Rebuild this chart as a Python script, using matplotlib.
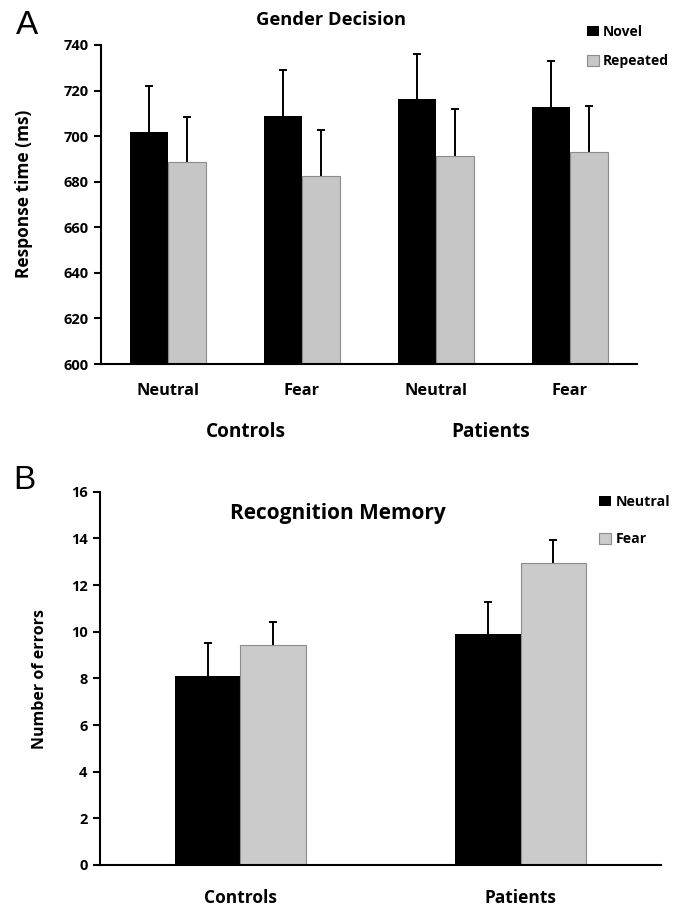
import matplotlib.pyplot as plt
import numpy as np

plt.rcParams['font.family'] = ['Open Sans', 'DejaVu Sans']

# Panel A data (Gender Decision)
conditions = ['Neutral', 'Fear', 'Neutral', 'Fear']
novel_rt = [701.8, 708.9, 716.1, 712.8]
novel_err = [20.0, 20.0, 20.1, 20.1]
repeated_rt = [688.7, 682.6, 691.3, 693.0]
repeated_err = [19.9, 20.0, 20.6, 20.1]

# Panel B data (Recognition Memory)
groups = ['Controls', 'Patients']
neutral_errors = [8.08, 9.91]
neutral_sem = [1.43, 1.35]
fear_errors = [9.41, 12.93]
fear_sem = [0.99, 1.0]

black = '#000000'
gray = '#c6c6c6'
gray_edge = '#8c8c8c'

fig = plt.figure(figsize=(6.74, 9.08), dpi=100)
W, H = 674, 908


def axes_px(l, t, r, b):
    return fig.add_axes([l / W, 1 - b / H, (r - l) / W, (b - t) / H])


def style_axes(ax):
    ax.spines['top'].set_visible(False)
    ax.spines['right'].set_visible(False)
    ax.spines['left'].set_linewidth(1.5)
    ax.spines['bottom'].set_linewidth(1.5)
    ax.tick_params(axis='y', length=5, width=1.5, labelsize=10.5, pad=4)
    for t in ax.get_yticklabels():
        t.set_fontweight('bold')


def upper_err(ax, xs, ys, errs):
    # one-sided error bars: hide the cap that sits on the bar top
    eb = ax.errorbar(xs, ys, yerr=[np.zeros(len(ys)), errs], fmt='none', ecolor='black',
                     elinewidth=1.4, capsize=3, capthick=1.4, zorder=1)
    eb[1][0].set_visible(False)


# ---------------- Panel A ----------------
ax1 = axes_px(101, 45, 637, 364)
x = np.arange(len(conditions))
w = 0.287
b1 = ax1.bar(x - w / 2, novel_rt, width=w, color=black, label='Novel', zorder=2)
b2 = ax1.bar(x + w / 2, repeated_rt, width=w, color=gray, edgecolor=gray_edge,
             linewidth=0.8, label='Repeated', zorder=2)
upper_err(ax1, x - w / 2, novel_rt, novel_err)
upper_err(ax1, x + w / 2, repeated_rt, repeated_err)
ax1.set_ylim(600, 740)
ax1.set_xlim(-0.5, 3.5)
ax1.set_yticks(range(600, 741, 20))
ax1.set_xticks(x)
ax1.set_xticklabels(conditions, fontsize=11.8, fontweight='bold')
ax1.tick_params(axis='x', length=0, pad=14)
style_axes(ax1)
leg1 = ax1.legend(handles=[b1, b2], loc='upper left', bbox_to_anchor=(587 / W, 1 - 25 / H),
                  bbox_transform=fig.transFigure, frameon=False, fontsize=10,
                  handlelength=0.85, handleheight=0.8, handletextpad=0.3,
                  labelspacing=1.1, borderpad=0, borderaxespad=0)
for t in leg1.get_texts():
    t.set_fontweight('bold')

fig.text(331 / W, 1 - 20 / H, 'Gender Decision', ha='center', va='center',
         fontsize=13.2, fontweight='bold')
fig.text(24 / W, 1 - 194 / H, 'Response time (ms)', ha='center', va='center',
         rotation=90, fontsize=12.5, fontweight='bold')
fig.text(27 / W, 1 - 25 / H, 'A', ha='center', va='center', fontsize=24,
         family='Liberation Sans')
fig.text(246 / W, 1 - 432 / H, 'Controls', ha='center', va='center',
         fontsize=13.7, fontweight='bold')
fig.text(491 / W, 1 - 432 / H, 'Patients', ha='center', va='center',
         fontsize=13.7, fontweight='bold')

# ---------------- Panel B ----------------
ax2 = axes_px(100, 491.7, 661, 865)
xg = np.arange(len(groups))
w2 = 0.233
n1 = ax2.bar(xg - w2 / 2, neutral_errors, width=w2, color=black, label='Neutral', zorder=2)
n2 = ax2.bar(xg + w2 / 2, fear_errors, width=w2, color='#cbcbcb', edgecolor=gray_edge,
             linewidth=0.8, label='Fear', zorder=2)
upper_err(ax2, xg - w2 / 2, neutral_errors, neutral_sem)
upper_err(ax2, xg + w2 / 2, fear_errors, fear_sem)
ax2.set_ylim(0, 16)
ax2.set_xlim(-0.5, 1.5)
ax2.set_yticks(range(0, 17, 2))
ax2.set_xticks(xg)
ax2.set_xticklabels(groups, fontsize=12.5, fontweight='bold')
ax2.tick_params(axis='x', length=0, pad=17)
style_axes(ax2)
leg2 = ax2.legend(handles=[n1, n2], loc='upper left', bbox_to_anchor=(599 / W, 1 - 495 / H),
                  bbox_transform=fig.transFigure, frameon=False, fontsize=10.2,
                  handlelength=0.85, handleheight=0.8, handletextpad=0.3,
                  labelspacing=1.65, borderpad=0, borderaxespad=0)
for t in leg2.get_texts():
    t.set_fontweight('bold')

fig.text(338 / W, 1 - 514 / H, 'Recognition Memory', ha='center', va='center',
         fontsize=15, fontweight='bold')
fig.text(40 / W, 1 - 679 / H, 'Number of errors', ha='center', va='center',
         rotation=90, fontsize=11.5, fontweight='bold')
fig.text(24 / W, 1 - 481 / H, 'B', ha='center', va='center', fontsize=24,
         family='Liberation Sans')

fig.savefig('out.png', dpi=100)
